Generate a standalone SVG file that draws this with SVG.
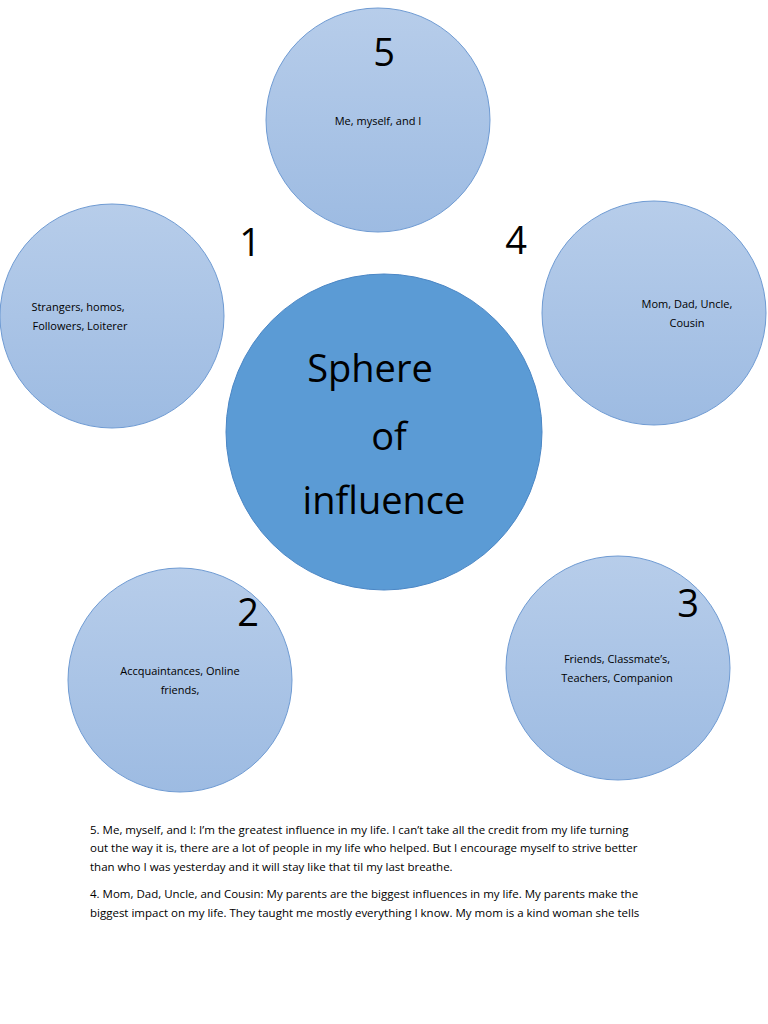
<svg xmlns="http://www.w3.org/2000/svg" width="768" height="1024" viewBox="0 0 768 1024">
<defs>
<linearGradient id="g" x1="0" y1="0" x2="0" y2="1"><stop offset="0" stop-color="#b7cdea"/><stop offset="1" stop-color="#9dbbe2"/></linearGradient>
<style>
.s{fill:url(#g);stroke:#6f9bd3;stroke-width:1}
.t{font-family:"Open Sans","Liberation Sans",sans-serif;font-size:11px;fill:#000;text-anchor:middle}
.n{font-family:"Open Sans","Liberation Sans",sans-serif;font-size:38px;fill:#000;text-anchor:middle}
.p{font-family:"Open Sans","Liberation Sans",sans-serif;font-size:11.5px;fill:#000}
</style>
</defs>
<rect width="768" height="1024" fill="#fff"/>
<g id="connectors"/>
<g id="n5"><circle class="s" cx="378" cy="120" r="112"/><text class="n" x="384" y="66">5</text><text class="t" x="378" y="125">Me, myself, and I</text></g>
<g id="n1"><circle class="s" cx="112" cy="316" r="112"/><text class="t" x="78" y="311">Strangers, homos,</text><text class="t" x="80" y="330">Followers, Loiterer</text></g>
<g id="l1"><text class="n" x="250" y="256">1</text></g>
<g id="l4"><text class="n" x="516" y="254">4</text></g>
<g id="n4"><circle class="s" cx="654" cy="313" r="112"/><text class="t" x="687" y="308">Mom, Dad, Uncle,</text><text class="t" x="687" y="327">Cousin</text></g>
<g id="center"><circle cx="384" cy="432" r="158" fill="#5b9bd5" stroke="#4a86c5" stroke-width="1"/>
<text class="n" x="370" y="382">Sphere</text><text class="n" x="389" y="450">of</text><text class="n" x="384" y="514">influence</text></g>
<g id="n2"><circle class="s" cx="180" cy="680" r="112"/><text class="n" x="248" y="626">2</text><text class="t" x="180" y="675">Accquaintances, Online</text><text class="t" x="180" y="694">friends,</text></g>
<g id="n3"><circle class="s" cx="618" cy="668" r="112"/><text class="n" x="688" y="617">3</text><text class="t" x="617" y="663">Friends, Classmate’s,</text><text class="t" x="617" y="682">Teachers, Companion</text></g>
<g id="text">
<text class="p" x="90" y="834">5. Me, myself, and I: I’m the greatest influence in my life. I can’t take all the credit from my life turning</text>
<text class="p" x="90" y="852">out the way it is, there are a lot of people in my life who helped. But I encourage myself to strive better</text>
<text class="p" x="90" y="871">than who I was yesterday and it will stay like that til my last breathe.</text>
<text class="p" x="90" y="898">4. Mom, Dad, Uncle, and Cousin: My parents are the biggest influences in my life. My parents make the</text>
<text class="p" x="90" y="917">biggest impact on my life. They taught me mostly everything I know. My mom is a kind woman she tells</text>
</g>
</svg>
